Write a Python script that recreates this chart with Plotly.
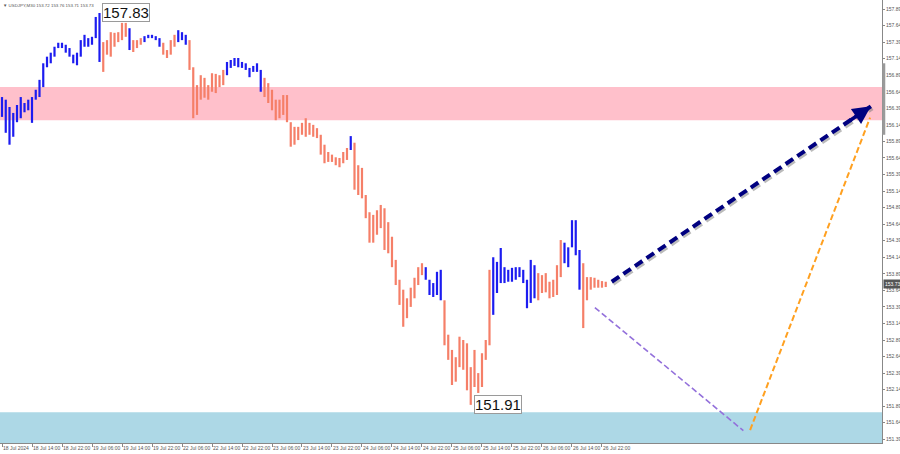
import plotly.graph_objects as go

# ---------------- data (hourly bars, USDJPY) ----------------
highs = [
    156.56, 156.52, 156.41, 156.32, 156.44, 156.56, 156.47, 156.52, 156.56, 156.67,
    156.82, 157.07, 157.17, 157.23, 157.32, 157.38, 157.38, 157.35, 157.30, 157.20,
    157.23, 157.42, 157.50, 157.45, 157.47, 157.77, 157.83, 157.39, 157.42, 157.54,
    157.53, 157.54, 157.68, 157.68, 157.60, 157.42, 157.42, 157.45, 157.48, 157.50,
    157.50, 157.48, 157.45, 157.38, 157.27, 157.42, 157.50, 157.57, 157.54, 157.50,
    157.42, 157.01, 156.74, 156.89, 156.85, 156.74, 156.92, 156.91, 156.89, 156.97,
    157.09, 157.12, 157.15, 157.15, 157.09, 157.07, 157.00, 157.03, 157.07, 156.97,
    156.85, 156.77, 156.67, 156.52, 156.52, 156.59, 156.59, 156.18, 156.11, 156.11,
    156.17, 156.24, 156.17, 156.14, 156.09, 155.99, 155.84, 155.73, 155.69, 155.65,
    155.64, 155.73, 155.79, 155.97, 155.87, 155.53, 155.49, 155.08, 154.82, 154.78,
    154.85, 154.93, 154.88, 154.67, 154.45, 154.10, 153.80, 153.65, 153.52, 153.68,
    153.83, 153.99, 154.05, 153.99, 153.80, 153.75, 153.92, 153.95, 153.49, 152.97,
    152.74, 152.63, 152.94, 152.89, 152.84, 152.48, 152.74, 152.39, 152.69, 152.89,
    153.95, 154.14, 154.07, 154.28, 153.99, 153.95, 153.98, 153.99, 153.99, 153.95,
    153.80, 154.10, 154.02, 153.90, 153.87, 153.90, 153.77, 153.80, 154.02, 154.40,
    154.36, 154.29, 154.70, 154.70, 154.25, 154.05, 153.84, 153.84, 153.83, 153.80,
    153.78, 153.77,
]
lows = [
    156.26, 156.02, 155.84, 155.96, 156.18, 156.24, 156.33, 156.36, 156.17, 156.52,
    156.56, 156.71, 157.01, 157.07, 157.17, 157.30, 157.30, 157.23, 157.17, 157.07,
    157.04, 157.17, 157.32, 157.32, 157.35, 157.45, 157.09, 156.94, 157.20, 157.17,
    157.32, 157.39, 157.42, 157.47, 157.27, 157.24, 157.30, 157.35, 157.39, 157.45,
    157.45, 157.42, 157.32, 157.20, 157.15, 157.20, 157.32, 157.39, 157.42, 157.35,
    156.97, 156.24, 156.29, 156.52, 156.55, 156.52, 156.64, 156.62, 156.71, 156.74,
    156.89, 157.00, 157.03, 157.01, 157.00, 156.97, 156.86, 156.94, 156.94, 156.64,
    156.56, 156.47, 156.36, 156.21, 156.24, 156.29, 156.18, 155.81, 155.84, 155.91,
    155.99, 155.96, 155.99, 155.96, 155.94, 155.69, 155.56, 155.58, 155.58, 155.53,
    155.50, 155.56, 155.61, 155.76, 155.16, 155.08, 155.03, 154.73, 154.36, 154.36,
    154.48, 154.58, 154.25, 154.20, 153.99, 153.72, 153.42, 153.09, 153.22, 153.39,
    153.52, 153.72, 153.87, 153.80, 153.57, 153.54, 153.57, 153.49, 152.81, 152.59,
    152.21, 152.26, 152.48, 152.44, 152.13, 151.91, 152.18, 152.09, 152.18, 152.59,
    152.81, 153.27, 153.60, 153.75, 153.75, 153.77, 153.77, 153.80, 153.84, 153.75,
    153.37, 153.45, 153.52, 153.49, 153.60, 153.61, 153.52, 153.54, 153.57, 153.84,
    154.05, 153.99, 154.29, 154.17, 153.65, 153.07, 153.49, 153.65, 153.68, 153.68,
    153.68, 153.69,
]
# bar-index ranges of upward (blue) wave segments; the rest are downward (salmon)
up_segments = [(0, 26), (34, 34), (38, 42), (47, 49), (60, 69), (93, 93),
               (113, 117), (131, 142), (150, 154)]

tick_labels = ["18 Jul 2024", "18 Jul 14:00", "18 Jul 22:00", "19 Jul 06:00",
               "19 Jul 14:00", "19 Jul 22:00", "22 Jul 06:00", "22 Jul 14:00",
               "22 Jul 22:00", "23 Jul 06:00", "23 Jul 14:00", "23 Jul 22:00",
               "24 Jul 06:00", "24 Jul 14:00", "24 Jul 22:00", "25 Jul 06:00",
               "25 Jul 14:00", "25 Jul 22:00", "26 Jul 06:00", "26 Jul 14:00",
               "26 Jul 22:00"]
bars_per_label = 8

price_ticks = [151.39 + 0.25 * k for k in range(27)]

# zones
resistance_zone = (156.21, 156.71)
support_zone = (151.334, 151.80)

# forecast paths (bar index, price)
main_fc_x = [162.6, 231.7]
main_fc_y = [153.77, 156.42]
alt_down_x = [158.1, 197.7]
alt_down_y = [153.38, 151.52]
alt_up_x = [199.5, 231.5]
alt_up_y = [151.53, 156.25]

last_price = 153.73
high_label = (26, 157.83)
low_label = (125, 151.91)

# ---------------- figure ----------------
X_RANGE = [-0.533, 234.67]
Y_RANGE = [151.334, 158.026]
PLOT_W, PLOT_H = 882, 443
px_x = (X_RANGE[1] - X_RANGE[0]) / PLOT_W
px_y = (Y_RANGE[1] - Y_RANGE[0]) / PLOT_H

BLUE = "#1c1cf0"
SALMON = "#f57f68"

is_up = [False] * len(highs)
for a, b in up_segments:
    for i in range(a, b + 1):
        is_up[i] = True

bx, by, sx, sy = [], [], [], []
for i, (h, l) in enumerate(zip(highs, lows)):
    if is_up[i]:
        bx += [i, i, None]; by += [l, h, None]
    else:
        sx += [i, i, None]; sy += [l, h, None]

fig = go.Figure()
fig.add_trace(go.Scatter(x=sx, y=sy, mode="lines", line=dict(color=SALMON, width=2.2),
                         hoverinfo="skip", showlegend=False))
fig.add_trace(go.Scatter(x=bx, y=by, mode="lines", line=dict(color=BLUE, width=2.2),
                         hoverinfo="skip", showlegend=False))

# main forecast with soft shadow
fig.add_trace(go.Scatter(x=[v + 1.5 * px_x for v in main_fc_x],
                         y=[v - 2 * px_y for v in main_fc_y], mode="lines",
                         line=dict(color="rgba(120,120,120,0.5)", width=4, dash="9px,5px"),
                         hoverinfo="skip", showlegend=False))
fig.add_trace(go.Scatter(x=main_fc_x, y=main_fc_y, mode="lines",
                         line=dict(color="#000080", width=4, dash="9px,5px"),
                         hoverinfo="skip", showlegend=False))
fig.add_trace(go.Scatter(x=alt_down_x, y=alt_down_y, mode="lines",
                         line=dict(color="#9370db", width=1.6, dash="6px,3px"),
                         hoverinfo="skip", showlegend=False))
fig.add_trace(go.Scatter(x=alt_up_x, y=alt_up_y, mode="lines",
                         line=dict(color="#ffa020", width=2, dash="6px,3px"),
                         hoverinfo="skip", showlegend=False))

shapes = [
    dict(type="rect", xref="paper", x0=0, x1=1, yref="y", y0=resistance_zone[0],
         y1=resistance_zone[1], fillcolor="#ffc0cb", line=dict(width=0), layer="below"),
    dict(type="rect", xref="paper", x0=0, x1=1, yref="y", y0=support_zone[0],
         y1=support_zone[1], fillcolor="#add8e6", line=dict(width=0), layer="below"),
    dict(type="line", xref="paper", x0=1.002, x1=1.002, yref="y", y0=155.99, y1=157.07,
         line=dict(color="#9a9a9a", width=3)),
]

annotations = [
    dict(x=main_fc_x[1], y=main_fc_y[1], ax=-22, ay=15, xref="x", yref="y",
         showarrow=True, arrowhead=2, arrowsize=1, arrowwidth=3.6, arrowcolor="#000080",
         text=""),
    dict(x=0, y=1, xref="paper", yref="paper",
         text="▼ USDJPY,M30 153.72 153.76 153.71 153.73",
         showarrow=False, xanchor="left", yanchor="top", xshift=1, yshift=-1,
         font=dict(family="Liberation Sans, Arial", size=4.4, color="#555")),
    dict(x=high_label[0], y=high_label[1], xref="x", yref="y", text=f"{high_label[1]:.2f}",
         showarrow=False, xanchor="left", yanchor="middle", xshift=2,
         font=dict(family="Liberation Sans, Arial", size=15, color="#111"),
         bgcolor="white", bordercolor="#9a9a9a", borderwidth=1, borderpad=0),
    dict(x=low_label[0], y=low_label[1], xref="x", yref="y", text=f"{low_label[1]:.2f}",
         showarrow=False, xanchor="left", yanchor="middle", xshift=3,
         font=dict(family="Liberation Sans, Arial", size=15, color="#111"),
         bgcolor="white", bordercolor="#9a9a9a", borderwidth=1, borderpad=0),
    dict(x=1, y=last_price, xref="paper", yref="y", text=f"{last_price:.2f}",
         showarrow=False, xanchor="left", yanchor="middle", xshift=1,
         font=dict(family="Liberation Sans, Arial", size=5, color="white"),
         bgcolor="#555555", borderpad=1),
]

fig.update_layout(
    width=900, height=454,
    margin=dict(l=0, r=18, t=0, b=11, pad=0, autoexpand=False),
    plot_bgcolor="white", paper_bgcolor="white",
    shapes=shapes, annotations=annotations, showlegend=False,
    xaxis=dict(range=X_RANGE, showgrid=False, zeroline=False, automargin=False,
               tickvals=[k * bars_per_label for k in range(len(tick_labels))],
               ticktext=tick_labels, ticklabelposition="outside right", tickangle=0,
               ticks="outside", ticklen=3, tickcolor="#888",
               tickfont=dict(family="Liberation Sans, Arial", size=5, color="#555"),
               showline=True, linecolor="#888", linewidth=1),
    yaxis=dict(range=Y_RANGE, side="right", showgrid=False, zeroline=False, automargin=False,
               tickvals=price_ticks, ticktext=[f"{v:.2f}" for v in price_ticks],
               ticks="outside", ticklen=2, tickcolor="#888",
               tickfont=dict(family="Liberation Sans, Arial", size=5, color="#555"),
               showline=True, linecolor="#888", linewidth=1),
)

fig.write_html("out.html", config={"displayModeBar": False},
               post_script="document.body.style.margin='0';document.body.style.overflow='hidden';")
